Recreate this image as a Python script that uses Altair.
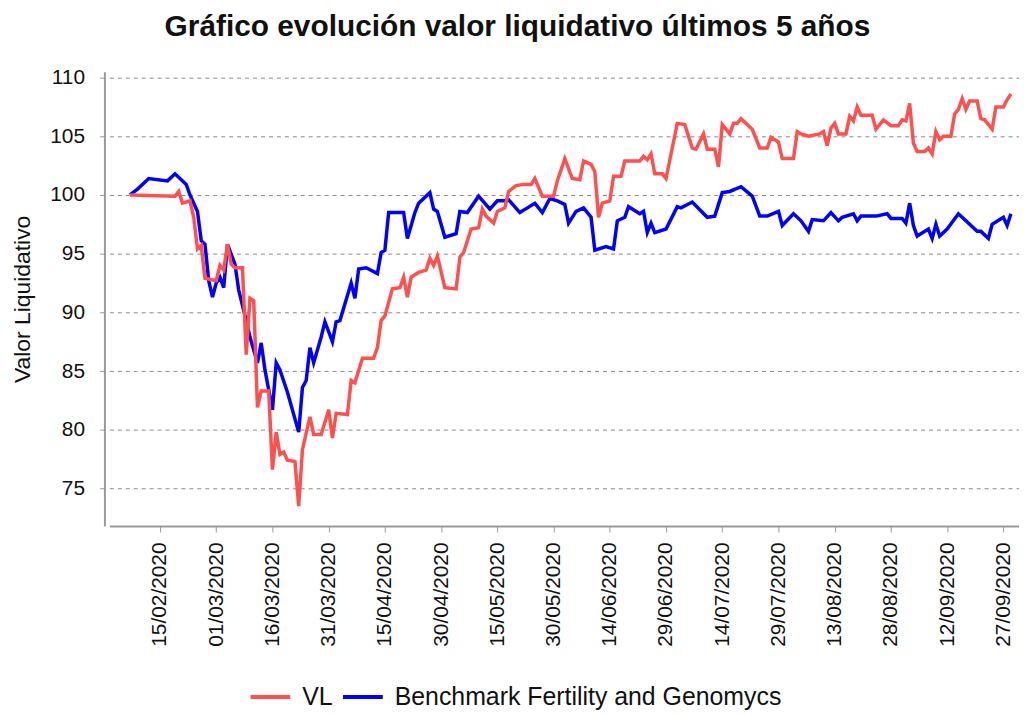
import altair as alt
import pandas as pd

# ---- data ----
vl_dates = [
    "2020-02-07", "2020-02-19", "2020-02-20", "2020-02-21", "2020-02-23", "2020-02-24", "2020-02-25",
    "2020-02-26", "2020-02-27", "2020-03-01", "2020-03-02", "2020-03-03", "2020-03-04", "2020-03-05",
    "2020-03-06", "2020-03-08", "2020-03-09", "2020-03-10", "2020-03-11", "2020-03-12", "2020-03-13",
    "2020-03-15", "2020-03-16", "2020-03-17", "2020-03-18", "2020-03-19", "2020-03-20", "2020-03-22",
    "2020-03-23", "2020-03-24", "2020-03-26", "2020-03-27", "2020-03-29", "2020-03-31", "2020-04-01",
    "2020-04-02", "2020-04-05", "2020-04-06", "2020-04-07", "2020-04-09", "2020-04-12", "2020-04-13",
    "2020-04-14", "2020-04-15", "2020-04-17", "2020-04-19", "2020-04-20", "2020-04-21", "2020-04-22",
    "2020-04-24", "2020-04-26", "2020-04-27", "2020-04-28", "2020-04-29", "2020-05-01", "2020-05-04",
    "2020-05-05", "2020-05-06", "2020-05-08", "2020-05-10", "2020-05-11", "2020-05-12", "2020-05-14",
    "2020-05-15", "2020-05-17", "2020-05-18", "2020-05-20", "2020-05-22", "2020-05-24", "2020-05-25",
    "2020-05-27", "2020-05-30", "2020-05-31", "2020-06-02", "2020-06-04", "2020-06-06", "2020-06-07",
    "2020-06-09", "2020-06-10", "2020-06-11", "2020-06-12", "2020-06-14", "2020-06-15", "2020-06-17",
    "2020-06-18", "2020-06-22", "2020-06-23", "2020-06-24", "2020-06-25", "2020-06-26", "2020-06-28",
    "2020-06-29", "2020-07-02", "2020-07-04", "2020-07-06", "2020-07-07", "2020-07-09", "2020-07-10",
    "2020-07-12", "2020-07-13", "2020-07-14", "2020-07-16", "2020-07-17", "2020-07-18", "2020-07-19",
    "2020-07-22", "2020-07-24", "2020-07-26", "2020-07-27", "2020-07-29", "2020-07-30", "2020-08-02",
    "2020-08-03", "2020-08-04", "2020-08-06", "2020-08-09", "2020-08-10", "2020-08-11", "2020-08-12",
    "2020-08-13", "2020-08-14", "2020-08-16", "2020-08-17", "2020-08-18", "2020-08-19", "2020-08-20",
    "2020-08-23", "2020-08-24", "2020-08-26", "2020-08-28", "2020-08-30", "2020-08-31", "2020-09-01",
    "2020-09-02", "2020-09-03", "2020-09-04", "2020-09-06", "2020-09-07", "2020-09-08", "2020-09-09",
    "2020-09-10", "2020-09-11", "2020-09-13", "2020-09-14", "2020-09-15", "2020-09-16", "2020-09-17",
    "2020-09-18", "2020-09-20", "2020-09-21", "2020-09-22", "2020-09-24", "2020-09-25", "2020-09-27",
    "2020-09-28", "2020-09-29",
]
vl_values = [
    100.0, 99.9, 100.3, 99.3, 99.5, 98.1, 95.4,
    95.7, 92.9, 92.7, 94.0, 93.6, 95.8, 94.1,
    93.8, 93.8, 86.4, 91.2, 91.0, 81.9, 83.3,
    83.3, 76.6, 79.8, 77.9, 78.1, 77.4, 77.3,
    73.5, 78.3, 81.1, 79.6, 79.6, 81.7, 79.3,
    81.4, 81.3, 84.2, 84.0, 86.1, 86.1, 87.0,
    89.3, 89.7, 92.0, 92.1, 93.0, 91.3, 93.0,
    93.4, 93.6, 94.6, 94.0, 94.8, 92.1, 92.0,
    94.7, 95.1, 97.1, 97.2, 98.8, 98.2, 97.6,
    98.6, 98.9, 100.3, 100.8, 100.9, 100.9, 101.4,
    99.9, 99.9, 101.2, 103.1, 101.4, 101.3, 102.9,
    102.6, 102.0, 98.1, 99.3, 99.5, 101.6, 101.6,
    102.9, 102.9, 103.3, 103.0, 103.5, 101.8, 101.8,
    101.4, 106.1, 106.0, 104.0, 103.9, 105.2, 103.9,
    103.9, 102.4, 106.0, 105.2, 106.1, 106.1, 106.5,
    105.6, 104.0, 104.0, 104.9, 104.5, 103.1, 103.1,
    105.4, 105.2, 105.0, 105.2, 105.4, 104.2, 105.7,
    106.1, 105.2, 105.2, 106.7, 106.3, 107.5, 106.8,
    106.8, 105.6, 106.4, 105.9, 105.9, 106.4, 106.3,
    107.8, 104.4, 103.7, 103.7, 104.0, 103.5, 105.4,
    104.7, 105.0, 105.0, 106.9, 107.3, 108.2, 107.3,
    108.0, 108.0, 106.5, 106.4, 105.6, 107.5, 107.5,
    108.1, 108.6,
]

bm_dates = [
    "2020-02-07", "2020-02-09", "2020-02-12", "2020-02-17", "2020-02-19", "2020-02-22", "2020-02-23",
    "2020-02-25", "2020-02-26", "2020-02-27", "2020-02-28", "2020-02-29", "2020-03-01", "2020-03-02",
    "2020-03-03", "2020-03-04", "2020-03-06", "2020-03-07", "2020-03-09", "2020-03-10", "2020-03-12",
    "2020-03-13", "2020-03-14", "2020-03-16", "2020-03-17", "2020-03-18", "2020-03-20", "2020-03-23",
    "2020-03-24", "2020-03-25", "2020-03-26", "2020-03-27", "2020-03-29", "2020-03-30", "2020-04-01",
    "2020-04-02", "2020-04-03", "2020-04-06", "2020-04-07", "2020-04-08", "2020-04-10", "2020-04-13",
    "2020-04-14", "2020-04-15", "2020-04-16", "2020-04-20", "2020-04-21", "2020-04-23", "2020-04-24",
    "2020-04-27", "2020-04-28", "2020-04-29", "2020-05-01", "2020-05-04", "2020-05-05", "2020-05-07",
    "2020-05-10", "2020-05-13", "2020-05-15", "2020-05-17", "2020-05-18", "2020-05-21", "2020-05-23",
    "2020-05-25", "2020-05-27", "2020-05-29", "2020-05-31", "2020-06-02", "2020-06-03", "2020-06-05",
    "2020-06-07", "2020-06-09", "2020-06-10", "2020-06-13", "2020-06-15", "2020-06-16", "2020-06-18",
    "2020-06-19", "2020-06-22", "2020-06-23", "2020-06-24", "2020-06-25", "2020-06-26", "2020-06-29",
    "2020-07-02", "2020-07-03", "2020-07-06", "2020-07-10", "2020-07-12", "2020-07-14", "2020-07-16",
    "2020-07-19", "2020-07-22", "2020-07-24", "2020-07-26", "2020-07-29", "2020-07-30", "2020-08-02",
    "2020-08-04", "2020-08-06", "2020-08-07", "2020-08-10", "2020-08-12", "2020-08-14", "2020-08-15",
    "2020-08-18", "2020-08-19", "2020-08-20", "2020-08-24", "2020-08-27", "2020-08-28", "2020-08-31",
    "2020-09-01", "2020-09-02", "2020-09-03", "2020-09-04", "2020-09-07", "2020-09-08", "2020-09-09",
    "2020-09-10", "2020-09-12", "2020-09-15", "2020-09-17", "2020-09-20", "2020-09-21", "2020-09-23",
    "2020-09-24", "2020-09-27", "2020-09-28", "2020-09-29",
]
bm_values = [
    100.0, 100.5, 101.4, 101.2, 101.8, 100.9, 100.0,
    98.6, 96.1, 95.8, 92.7, 91.3, 92.5, 93.0,
    92.1, 95.8, 94.1, 91.9, 89.3, 87.9, 85.7,
    87.4, 85.1, 81.7, 85.7, 85.1, 83.2, 79.8,
    83.6, 84.2, 87.0, 85.7, 87.9, 89.2, 87.5,
    89.2, 89.3, 92.5, 91.2, 93.7, 93.8, 93.3,
    95.1, 95.3, 98.5, 98.5, 96.3, 98.5, 99.3,
    100.2, 98.8, 98.6, 96.4, 96.7, 98.6, 98.5,
    99.9, 98.8, 99.5, 99.5, 99.6, 98.5, 98.9,
    99.3, 98.5, 99.7, 99.5, 99.2, 97.6, 98.6,
    98.9, 98.1, 95.3, 95.6, 95.4, 97.8, 98.1,
    99.0, 98.4, 98.6, 96.8, 97.6, 96.8, 97.1,
    99.0, 98.9, 99.4, 98.1, 98.2, 100.2, 100.3,
    100.7, 99.9, 98.2, 98.2, 98.6, 97.4, 98.4,
    97.8, 96.9, 97.9, 97.8, 98.5, 97.8, 98.1,
    98.4, 97.8, 98.2, 98.2, 98.4, 98.0, 98.0,
    97.6, 99.3, 97.4, 96.5, 97.1, 96.3, 97.5,
    96.5, 97.1, 98.4, 97.8, 96.9, 96.9, 96.3,
    97.5, 98.1, 97.4, 98.4,
]

series_names = ["VL", "Benchmark Fertility and Genomycs"]
series_colors = ["#FF4F4F", "#0000FF"]
y_ticks = [75, 80, 85, 90, 95, 100, 105, 110]
x_tick_dates = [
    (2, 15), (3, 1), (3, 16), (3, 31), (4, 15), (4, 30), (5, 15), (5, 30),
    (6, 14), (6, 29), (7, 14), (7, 29), (8, 13), (8, 28), (9, 12), (9, 27),
]

df = pd.concat([
    pd.DataFrame({"fecha": pd.to_datetime(bm_dates), "valor": bm_values, "serie": series_names[1]}),
    pd.DataFrame({"fecha": pd.to_datetime(vl_dates), "valor": vl_values, "serie": series_names[0]}),
])

FONT = "Liberation Sans"

chart = alt.Chart(df).mark_line(strokeWidth=3.5, interpolate="linear").encode(
    x=alt.X(
        "fecha:T",
        scale=alt.Scale(domain=[
            alt.DateTime(year=2020, month=2, date=1, hours=12),
            alt.DateTime(year=2020, month=10, date=1, hours=4),
        ]),
        axis=alt.Axis(
            values=[alt.DateTime(year=2020, month=m, date=d) for m, d in x_tick_dates],
            format="%d/%m/%Y",
            labelAngle=270,
            labelFontSize=21,
            labelFont=FONT,
            labelColor="#111",
            labelPadding=10,
            labelOverlap=False,
            domainColor="#999",
            domainWidth=2,
            tickColor="#999",
            tickSize=6,
            grid=False,
            title=None,
        ),
    ),
    y=alt.Y(
        "valor:Q",
        scale=alt.Scale(domain=[71.8, 110.5], nice=False, zero=False),
        axis=alt.Axis(
            values=y_ticks,
            title="Valor Liquidativo",
            titleFont=FONT,
            titleFontSize=23,
            titleFontWeight="normal",
            titleColor="#111",
            titlePadding=15,
            labelFont=FONT,
            labelFontSize=21,
            labelColor="#111",
            labelPadding=15,
            offset=5,
            domainColor="#999",
            domainWidth=2,
            tickColor="#999",
            tickSize=5,
            grid=True,
            gridDash=[4, 4],
            gridColor="#888",
            gridWidth=1,
        ),
    ),
    color=alt.Color(
        "serie:N",
        scale=alt.Scale(domain=series_names, range=series_colors),
        legend=alt.Legend(
            title=None,
            orient="none",
            legendX=140,
            legendY=607,
            direction="horizontal",
            symbolType="stroke",
            symbolStrokeWidth=4,
            symbolSize=1600,
            labelFont=FONT,
            labelFontSize=25,
            labelColor="#111",
            labelLimit=800,
            labelOffset=10,
            columnPadding=2,
        ),
    ),
).properties(
    width=915,
    height=457,
    autosize=alt.AutoSizeParams(type="none"),
    padding={"left": 102, "top": 62, "right": 0, "bottom": 185},
    title=alt.TitleParams(
        "Gráfico evolución valor liquidativo últimos 5 años",
        font=FONT,
        fontSize=30,
        fontWeight="bold",
        color="#111",
        anchor="middle",
        dx=-47,
        offset=25,
    ),
).configure_view(stroke=None)

chart.save("out.html", embed_options={"renderer": "svg", "actions": False})
